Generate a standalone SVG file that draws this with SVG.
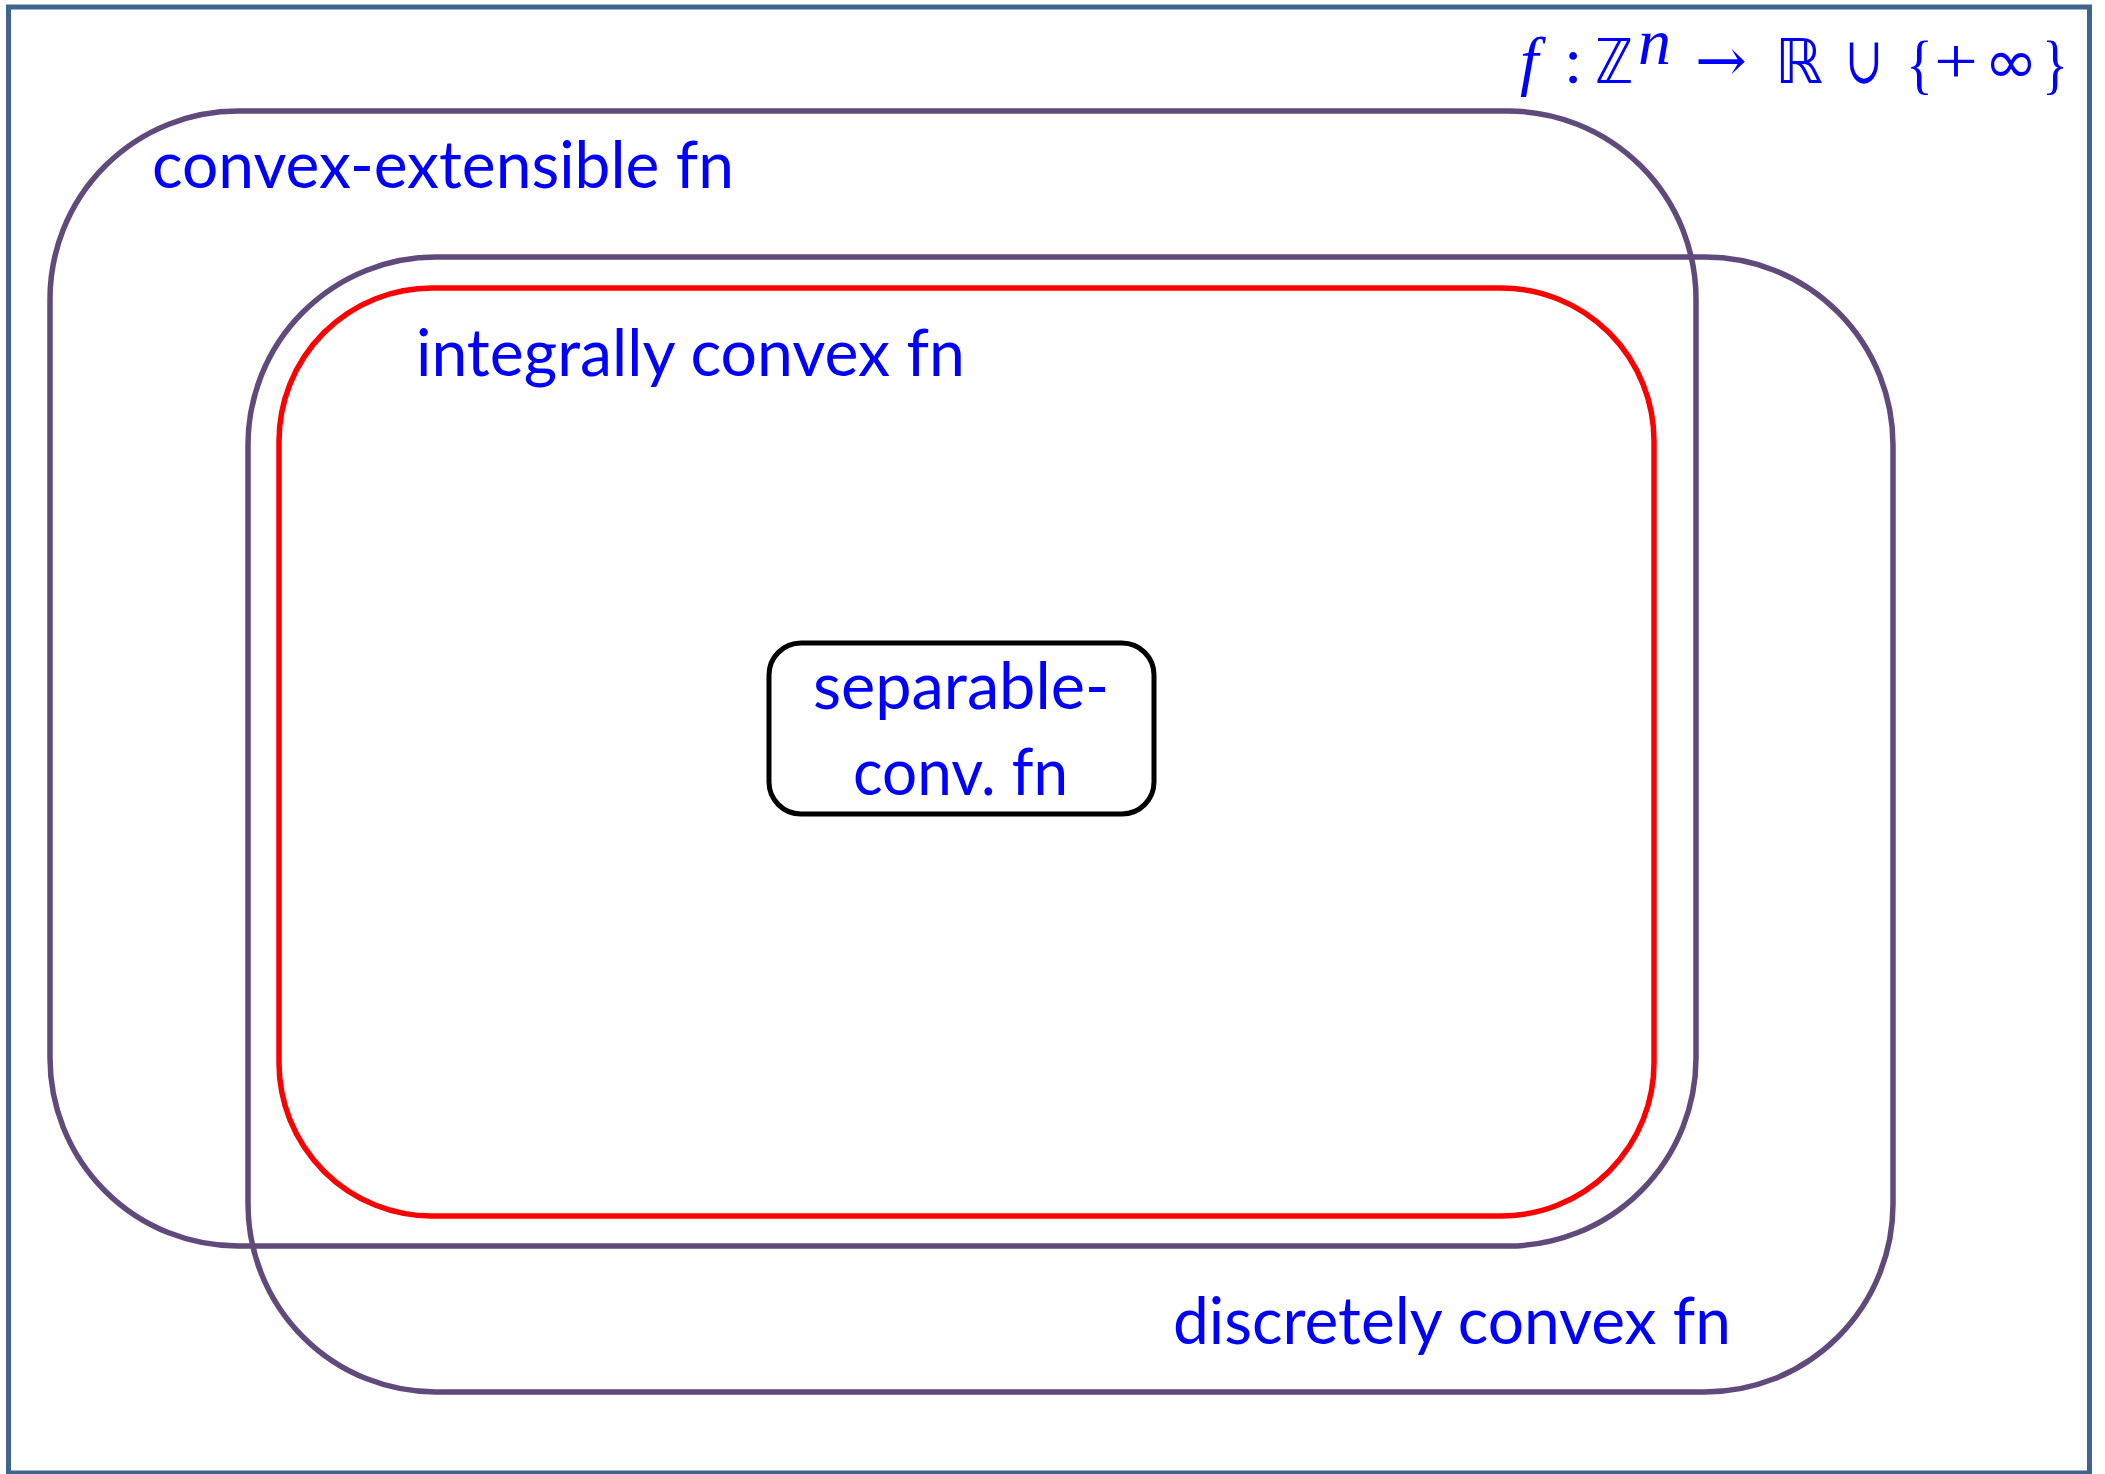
<svg xmlns="http://www.w3.org/2000/svg" width="2105" height="1474" viewBox="0 0 2105 1474">
<style>
.set{fill:none;stroke:#604A7B;stroke-width:5.5}
.red{fill:none;stroke:#FF0000;stroke-width:5.5}
.lbl{font-family:Lato,"Liberation Sans",sans-serif;font-size:66px;fill:#0000FF}
.m{font-family:"Liberation Serif","DejaVu Serif",serif;font-size:66px;fill:#0000FF}
.ms{font-family:"DejaVu Sans",sans-serif;font-size:62px;fill:#0000FF}
</style>
<rect width="2105" height="1474" fill="#FFFFFF"/>
<g id="frame">
<rect x="8.5" y="7" width="2081" height="1466" fill="none" stroke="#3F6490" stroke-width="5"/>
<g id="formula">
<text class="m" x="1520" y="83" font-size="72" font-style="italic">f</text>
<text class="m" x="1564" y="83">:</text>
<text class="ms" x="1595" y="83" font-size="64" textLength="38" lengthAdjust="spacingAndGlyphs">ℤ</text>
<text class="m" x="1638" y="64" font-size="50" font-style="italic">n</text>
<text font-family="DejaVu Serif, serif" font-size="60" fill="#0000FF" x="1695" y="81" textLength="52" lengthAdjust="spacingAndGlyphs">→</text>
<text class="ms" x="1775" y="83" font-size="64" textLength="48" lengthAdjust="spacingAndGlyphs">ℝ</text>
<text font-family="DejaVu Serif, serif" font-size="66" fill="#0000FF" x="1845" y="83" textLength="38" lengthAdjust="spacingAndGlyphs">∪</text>
<text class="m" x="1906" y="86" font-size="80" textLength="27" lengthAdjust="spacingAndGlyphs">{</text>
<text class="m" x="1934" y="83" font-size="80" textLength="44" lengthAdjust="spacingAndGlyphs">+</text>
<text class="ms" x="1984" y="83" font-size="74" textLength="54" lengthAdjust="spacingAndGlyphs">∞</text>
<text class="m" x="2042" y="86" font-size="80" textLength="26" lengthAdjust="spacingAndGlyphs">}</text>
</g>
</g>
<g id="convex-extensible">
<rect class="set" x="50" y="111" width="1646" height="1135" rx="188" ry="188"/>
<text class="lbl" x="152" y="188" textLength="582" lengthAdjust="spacingAndGlyphs">convex-extensible fn</text>
</g>
<g id="discretely-convex">
<rect class="set" x="248" y="257" width="1645" height="1135" rx="188" ry="188"/>
<text class="lbl" x="1173" y="1344" textLength="558" lengthAdjust="spacingAndGlyphs">discretely convex fn</text>
</g>
<g id="integrally-convex">
<rect class="red" x="279" y="288" width="1375" height="928" rx="153" ry="153"/>
<text class="lbl" x="416" y="376" textLength="549" lengthAdjust="spacingAndGlyphs">integrally convex fn</text>
</g>
<g id="separable-convex">
<rect x="769" y="643" width="385" height="171" rx="32" ry="32" fill="#FFFFFF" stroke="#000000" stroke-width="5"/>
<text class="lbl" x="813" y="709" textLength="296" lengthAdjust="spacingAndGlyphs">separable-</text>
<text class="lbl" x="853" y="795" textLength="215" lengthAdjust="spacingAndGlyphs">conv. fn</text>
</g>
<g id="connectors"/>
</svg>
